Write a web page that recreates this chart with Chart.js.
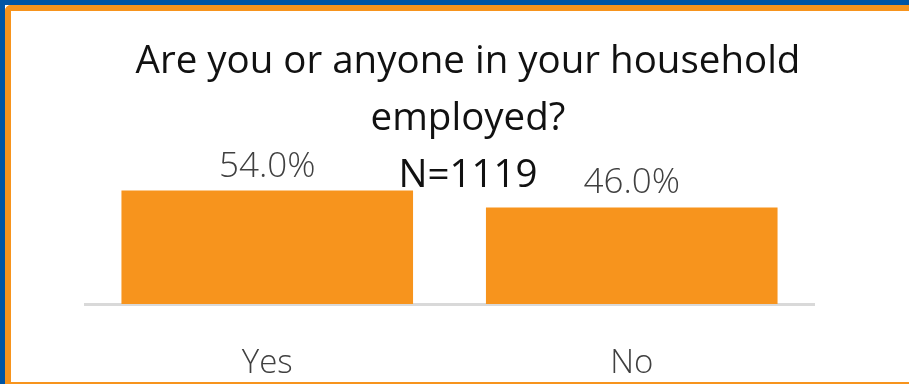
<!DOCTYPE html>
<html lang="en">
<head>
    <meta charset="UTF-8">
    <title>Are you or anyone in your household employed?</title>
    <script src="https://cdn.jsdelivr.net/npm/chart.js"></script>
    <style>
        body {
            margin: 0;
            background: #ffffff;
        }

        #frame {
            position: relative;
            width: 909px;
            height: 384px;
            overflow: hidden;
            background: #ffffff;
        }

        .edge { position: absolute; }

        #chart-box {
            position: absolute;
            left: 0;
            top: 0;
            width: 909px;
            height: 384px;
        }
    </style>
</head>
<body>

    <div id="frame">
        <!-- blue outer frame, orange inner frame -->
        <div class="edge" style="left:0;top:0;width:909px;height:5px;background:#0055a5;"></div>
        <div class="edge" style="left:0;top:0;width:5px;height:384px;background:#0055a5;"></div>
        <div class="edge" style="left:5px;top:5px;width:904px;height:379px;border-top:6px solid #f7941d;border-left:6px solid #f7941d;border-bottom:2px solid #f7941d;border-top-left-radius:6px;box-sizing:border-box;"></div>

        <div id="chart-box">
            <canvas id="employed-chart" width="909" height="384"></canvas>
        </div>
    </div>

    <script>
        const categories = ['Yes', 'No'];
        const percentages = [54.0, 46.0];
        const titleLines = ['Are you or anyone in your household', 'employed?', 'N=1119'];

        // title and value labels are drawn on top of the bars, like the original
        const overlayText = {
            id: 'overlayText',
            afterDatasetsDraw(chart) {
                const ctx = chart.ctx;
                ctx.save();
                ctx.textAlign = 'center';
                ctx.textBaseline = 'alphabetic';

                ctx.fillStyle = '#404040';
                ctx.font = '300 35px "Open Sans", "Noto Sans", sans-serif';
                chart.getDatasetMeta(0).data.forEach((bar, i) => {
                    ctx.fillText(percentages[i].toFixed(1) + '%', bar.x, bar.y - 14);
                });

                ctx.fillStyle = '#111111';
                ctx.font = '400 38.5px "Open Sans", "Noto Sans", sans-serif';
                titleLines.forEach((line, i) => {
                    ctx.fillText(line, 468, 73 + i * 57);
                });
                ctx.restore();
            }
        };

        const ctx = document.getElementById('employed-chart').getContext('2d');
        const employedChart = new Chart(ctx, {
            type: 'bar',
            data: {
                labels: categories,
                datasets: [{
                    data: percentages,
                    backgroundColor: '#f7941d',
                    borderWidth: 0,
                    categoryPercentage: 0.8,
                    barPercentage: 1.0
                }]
            },
            options: {
                responsive: false,
                animation: false,
                layout: {
                    padding: { left: 85, right: 95, top: 178, bottom: 0 }
                },
                scales: {
                    x: {
                        grid: { display: false },
                        border: { display: true, color: '#d9d9d9', width: 3 },
                        ticks: {
                            color: '#404040',
                            font: { family: '"Open Sans", "Noto Sans", sans-serif', size: 33, weight: '300' },
                            padding: 32
                        },
                        afterFit: (scale) => { scale.height = 80; }
                    },
                    y: {
                        display: false,
                        min: 0,
                        max: 60
                    }
                },
                plugins: {
                    legend: { display: false },
                    tooltip: { enabled: false }
                }
            },
            plugins: [overlayText]
        });
    </script>

</body>
</html>
